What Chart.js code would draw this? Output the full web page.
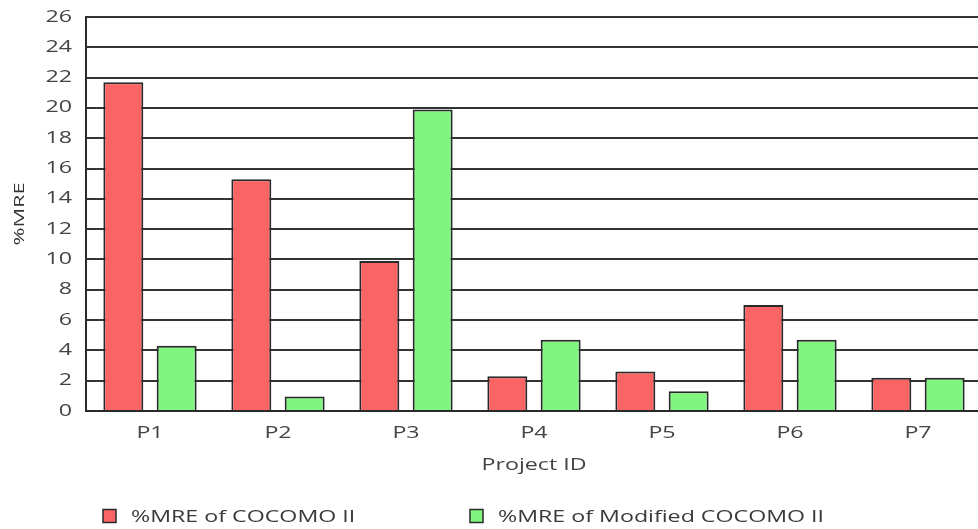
<!DOCTYPE html>
<html>
<head>
<meta charset="utf-8">
<script src="https://cdn.jsdelivr.net/npm/chart.js@4/dist/chart.umd.min.js"></script>
<style>
  html, body { margin: 0; padding: 0; background: #ffffff; overflow: hidden; }
  #wrap { width: 978px; height: 529px; overflow: hidden; }
  canvas { display: block; }
</style>
</head>
<body>
<div id="wrap"><canvas id="chart" width="990" height="529"></canvas></div>
<script>
// Projects on the x axis
const projects = ['P1', 'P2', 'P3', 'P4', 'P5', 'P6', 'P7'];

// Mean relative error (%) per project
const mreCocomo = [21.7, 15.3, 9.9, 2.3, 2.6, 7.0, 2.2];
const mreModified = [4.3, 0.95, 19.9, 4.7, 1.3, 4.7, 2.2];

const seriesNames = ['%MRE of COCOMO II', '%MRE of Modified COCOMO II'];

// Value axis range
const yMin = 0;
const yMax = 26;
const yStep = 2;

const FONT = '"Open Sans", "DejaVu Sans", sans-serif';
const RED = '#fa6464';
const GREEN = '#80f57f';
const EDGE = '#2a2a2a';

// Wide lettering: every label is drawn horizontally widened around its anchor
const textStretch = {
  id: 'textStretch',
  beforeDraw(chart, args, opts) {
    const ctx = chart.ctx;
    if (ctx.__wide) return;
    ctx.__wide = true;
    const base = CanvasRenderingContext2D.prototype.fillText;
    const k = opts.factor;
    ctx.fillText = function (text, x, y, maxWidth) {
      this.save();
      this.translate(x, y);
      this.scale(k, 1);
      if (maxWidth === undefined || maxWidth === null) {
        base.call(this, text, 0, 0);
      } else {
        base.call(this, text, 0, 0, maxWidth / k);
      }
      this.restore();
    };
  }
};

// Legend drawn under the axis title
const legendPlugin = {
  id: 'bottomLegend',
  afterDraw(chart, args, opts) {
    const ctx = chart.ctx;
    ctx.save();
    chart.data.datasets.forEach((ds, i) => {
      const x = opts.positions[i];
      const y = opts.y;
      ctx.fillStyle = ds.backgroundColor;
      ctx.fillRect(x, y - 6.5, 13, 13);
      ctx.lineWidth = 1.5;
      ctx.strokeStyle = EDGE;
      ctx.strokeRect(x, y - 6.5, 13, 13);
      ctx.fillStyle = '#3a3a3a';
      ctx.font = '16px ' + FONT;
      ctx.textBaseline = 'middle';
      ctx.textAlign = 'left';
      ctx.fillText(ds.label, x + 28, y + 1);
    });
    ctx.restore();
  }
};

new Chart(document.getElementById('chart'), {
  type: 'bar',
  data: {
    labels: projects,
    datasets: [
      {
        label: seriesNames[0],
        data: mreCocomo,
        backgroundColor: RED,
        borderColor: EDGE,
        borderWidth: 2
      },
      {
        label: seriesNames[1],
        data: mreModified,
        backgroundColor: GREEN,
        borderColor: EDGE,
        borderWidth: 2
      }
    ]
  },
  options: {
    responsive: false,
    animation: false,
    devicePixelRatio: 1,
    categoryPercentage: 0.833,
    barPercentage: 0.75,
    layout: { padding: { top: 17, right: 8, left: 0, bottom: 0 } },
    plugins: {
      legend: { display: false },
      tooltip: { enabled: false },
      textStretch: { factor: 1.45 },
      bottomLegend: { positions: [103, 470], y: 516 }
    },
    scales: {
      x: {
        afterFit(s) { s.height = 118; s.paddingLeft = 0; s.paddingRight = 0; },
        grid: { display: false, drawTicks: false },
        border: { display: true, color: EDGE, width: 2 },
        ticks: {
          color: '#444',
          padding: 13,
          font: { family: FONT, size: 16 }
        },
        title: {
          display: true,
          text: 'Project ID',
          color: '#444',
          font: { family: FONT, size: 16 },
          padding: { top: 0, bottom: 54 }
        }
      },
      y: {
        min: yMin,
        max: yMax,
        afterFit(s) { s.width = 86; s.paddingTop = 0; s.paddingBottom = 0; },
        grid: { color: '#333', lineWidth: 2, drawTicks: false },
        border: { display: true, color: EDGE, width: 2 },
        ticks: {
          stepSize: yStep,
          color: '#444',
          padding: 14,
          font: { family: FONT, size: 16 }
        },
        title: {
          display: true,
          text: '%MRE',
          color: '#333',
          font: { family: FONT, size: 15 },
          padding: { top: 11, bottom: 0 }
        }
      }
    }
  },
  plugins: [textStretch, legendPlugin]
});
</script>
</body>
</html>
